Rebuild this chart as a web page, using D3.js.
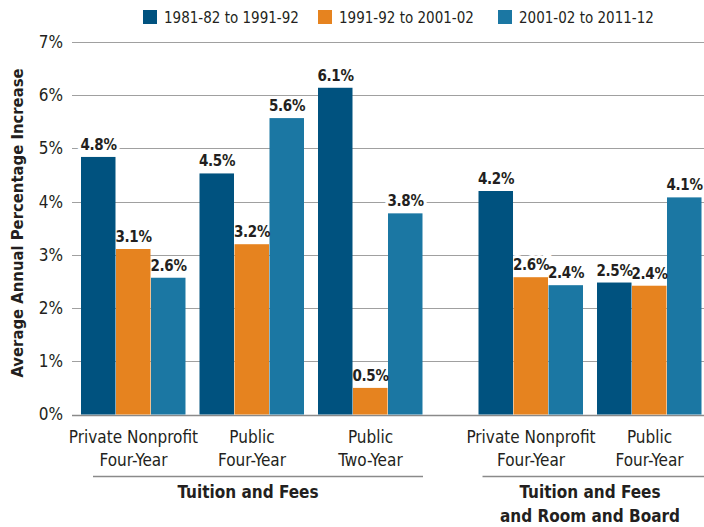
<!DOCTYPE html>
<html>
<head>
<meta charset="utf-8">
<script src="https://cdn.jsdelivr.net/npm/d3@7"></script>
<style>
  body { margin: 0; background: #fff; }
  svg text { font-family: "Liberation Sans Narrow", "DejaVu Sans Condensed", sans-serif; font-stretch: condensed; fill: #231f20; }
</style>
</head>
<body>
<div id="chart"></div>
<script>
// Data
var series = ['1981-82 to 1991-92', '1991-92 to 2001-02', '2001-02 to 2011-12'];
var groups = ['Private Nonprofit\nFour-Year', 'Public\nFour-Year', 'Public\nTwo-Year', 'Private Nonprofit\nFour-Year ', 'Public\nFour-Year '];
var sections = ['Tuition and Fees', 'Tuition and Fees\nand Room and Board'];
var groupSection = [0, 0, 0, 1, 1];
var values = [
    [4.84, 3.11, 2.57],
    [4.53, 3.20, 5.57],
    [6.14, 0.50, 3.78],
    [4.20, 2.58, 2.43],
    [2.48, 2.42, 4.08]
];
var yTicks = [0, 1, 2, 3, 4, 5, 6, 7];
var colors = ['#00527f', '#e6831f', '#1b77a3'];

// Size variables
var width = 704;
var height = 527;
var left = 72;
var sectionGap = 42;

var svg = d3.select('#chart')
    .append('svg')
    .attr('width', width)
    .attr('height', height);

// Scales
var yScale = d3.scaleLinear()
    .domain([0, 7])
    .range([414.5, 42]);

var x0 = d3.scaleBand()
    .domain(groups)
    .range([81, 660])
    .paddingInner(0.114);

var groupX = (g, i) => x0(g) + (groupSection[i] ? sectionGap : 0);

var x1 = d3.scaleBand()
    .domain(series)
    .range([0, x0.bandwidth()]);

// Gridlines
svg.append('g')
    .selectAll('line')
    .data(yTicks)
    .enter()
    .append('line')
    .attr('x1', left)
    .attr('x2', width)
    .attr('y1', (d) => Math.round(yScale(d)) + 0.5)
    .attr('y2', (d) => Math.round(yScale(d)) + 0.5)
    .attr('stroke', (d) => d === 0 ? '#8a8a8a' : '#a0a0a0')
    .attr('stroke-width', (d) => d === 0 ? 1.5 : 1);

// Y axis labels
var yAxis = d3.axisLeft(yScale)
    .tickValues(yTicks)
    .tickFormat((d) => d + '%')
    .tickSize(0)
    .tickPadding(9);

svg.append('g')
    .attr('transform', `translate(${left}, 0)`)
    .call(yAxis)
    .call((g) => g.select('.domain').remove())
    .selectAll('text')
    .style('font-size', '17px');

// Y axis title
svg.append('text')
    .attr('transform', 'rotate(-90)')
    .attr('x', -223)
    .attr('y', 23)
    .attr('text-anchor', 'middle')
    .style('font-size', '16.5px')
    .style('font-weight', 'bold')
    .text('Average Annual Percentage Increase');

var barData = (d) => d.map((v, j) => ({ v: v, s: series[j], j: j }));

function addLabels(sel, halo) {
    var cls = halo ? 'halo' : 'val';
    sel.selectAll('text.' + cls)
        .data(barData)
        .enter()
        .append('text')
        .attr('class', cls)
        .attr('x', (d) => x1(d.s) + x1.bandwidth() / 2)
        .attr('y', (d) => yScale(d.v) - 7)
        .attr('text-anchor', 'middle')
        .style('font-size', '15px')
        .style('font-weight', 'bold')
        .style('letter-spacing', '-0.3px')
        .style('stroke', halo ? '#fff' : 'none')
        .style('stroke-width', halo ? 6 : 0)
        .style('fill', halo ? '#fff' : '#231f20')
        .text((d) => d3.format('.1f')(d.v) + '%');
}

// Groups
var groupG = svg.append('g')
    .selectAll('g')
    .data(values)
    .enter()
    .append('g')
    .attr('transform', (d, i) => `translate(${groupX(groups[i], i)}, 0)`);

// white halo behind labels cuts the gridlines only
addLabels(groupG, true);

groupG.selectAll('rect')
    .data(barData)
    .enter()
    .append('rect')
    .attr('x', (d) => x1(d.s))
    .attr('y', (d) => yScale(d.v))
    .attr('width', x1.bandwidth() - 0.5)
    .attr('height', (d) => yScale(0) - yScale(d.v))
    .attr('fill', (d) => colors[d.j]);

addLabels(groupG, false);

// Category labels
groups.forEach((g, i) => {
    var cx = groupX(g, i) + x0.bandwidth() / 2;
    var t = svg.append('text')
        .attr('text-anchor', 'middle')
        .style('font-size', '17px');
    g.trim().split('\n').forEach((line, k) => {
        t.append('tspan')
            .attr('x', cx)
            .attr('y', 443 + k * 23)
            .text(line);
    });
});

// Section lines and labels
var sectionRange = [
    [groupX(groups[0], 0) + 12, groupX(groups[2], 2) + x0.bandwidth()],
    [groupX(groups[3], 3) + 4, width]
];

sections.forEach((s, i) => {
    svg.append('line')
        .attr('x1', sectionRange[i][0])
        .attr('x2', sectionRange[i][1])
        .attr('y1', 476.5)
        .attr('y2', 476.5)
        .attr('stroke', '#8a8a8a')
        .attr('stroke-width', 1.5);
    var cx = i === 0 ? 248 : 590;
    var t = svg.append('text')
        .attr('text-anchor', 'middle')
        .style('font-size', '17px')
        .style('font-weight', 'bold');
    s.split('\n').forEach((line, k) => {
        t.append('tspan')
            .attr('x', cx)
            .attr('y', 498 + k * 24)
            .text(line);
    });
});

// Legend
var legendX = [143, 318, 498];
var legend = svg.append('g')
    .selectAll('g')
    .data(series)
    .enter()
    .append('g')
    .attr('transform', (d, i) => `translate(${legendX[i]}, 10)`);

legend.append('rect')
    .attr('width', 14)
    .attr('height', 14)
    .attr('fill', (d, i) => colors[i]);

legend.append('text')
    .attr('x', 21)
    .attr('y', 13)
    .style('font-size', '15px')
    .text((d) => d);
</script>
</body>
</html>
